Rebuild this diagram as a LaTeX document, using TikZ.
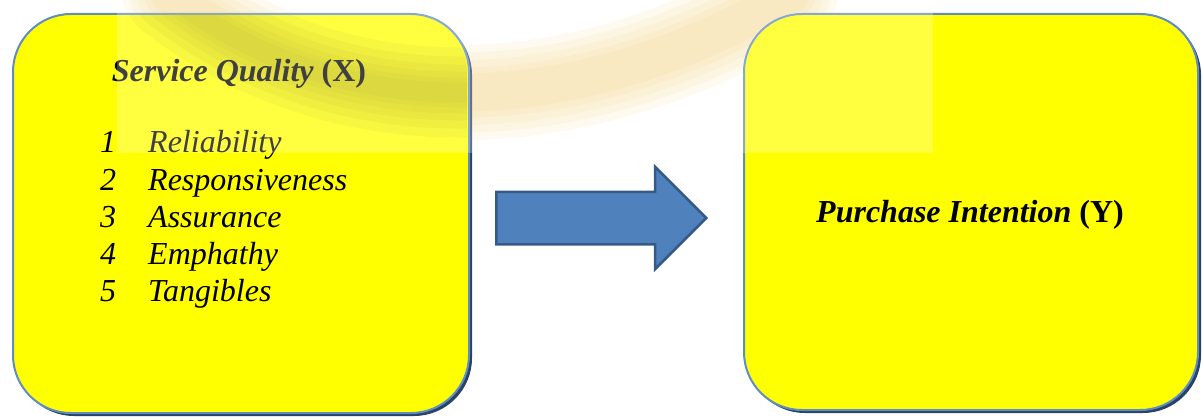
\documentclass[tikz,border=0pt]{standalone}
\usepackage{fontspec}
\setmainfont{Liberation Serif}
\usetikzlibrary{shapes.arrows}
\definecolor{boxyellow}{RGB}{255,255,0}
\definecolor{boxborder}{RGB}{96,140,196}
\definecolor{boxshadow}{RGB}{40,66,104}
\definecolor{arrowfill}{RGB}{79,129,189}
\definecolor{arrowborder}{RGB}{54,90,136}
\definecolor{bandcream}{RGB}{238,186,60}
\definecolor{bandolive}{RGB}{160,150,0}
\begin{document}
\begin{tikzpicture}[x=1pt,y=-1pt,
  boxshape/.style={draw=boxborder, line width=2pt, fill=boxyellow, rounded corners=58pt, inner sep=0pt, anchor=north west},
  shadowfill/.style={fill=boxshadow, rounded corners=58pt},
  bigtext/.style={font=\fontsize{32}{37}\selectfont, inner sep=0pt, text=black},
  blockarrow/.style={shape=single arrow, draw=arrowborder, line width=2.5pt, fill=arrowfill,
    single arrow head extend=25pt, single arrow tip angle=90, inner xsep=0pt, inner ysep=25pt,
    text height=0pt, text depth=0pt, text width=0pt, minimum height=210pt, anchor=tail},
  bandstroke/.style={line cap=round, draw=#1}
]
\useasboundingbox (0,0) rectangle (1202,417);
% watermark band (outside boxes)
\begin{scope}
  \clip (117,0) rectangle (933,153);
  \foreach \w in {95,80,65,50,38}
    \draw[bandstroke=bandcream, line width=\w pt, opacity=0.1]
      (170,-5) .. controls (330,120) and (560,130) .. (790,-5);
\end{scope}
% shadows
\fill[shadowfill] (16,17) rectangle (472,416);
\fill[shadowfill] (747,17) rectangle (1201,413);
% boxes
\node[boxshape, minimum width=456pt, minimum height=399pt] (sq) at (12,13) {};
\node[boxshape, minimum width=454pt, minimum height=396pt] (pi) at (743,13) {};
% watermark band inside left box
\begin{scope}
  \clip[rounded corners=58pt] (13,14) rectangle (467,411);
  \clip (117,0) rectangle (933,153);
  \foreach \w in {90,72,56,42,30,20}
    \draw[bandstroke=bandolive, line width=\w pt, opacity=0.1]
      (170,-5) .. controls (330,120) and (560,130) .. (790,-5);
\end{scope}
% arrow
\node[blockarrow] (arr) at (495,218) {};
% texts
\node[bigtext, anchor=base] (sqtitle) at (239,82) {\textbf{\textit{Service Quality}} \textbf{(X)}};
\node[bigtext, anchor=base west] (n1) at (100,153) {\textit{1}};
\node[bigtext, anchor=base west] (n2) at (100,190) {\textit{2}};
\node[bigtext, anchor=base west] (n3) at (100,227) {\textit{3}};
\node[bigtext, anchor=base west] (n4) at (100,264) {\textit{4}};
\node[bigtext, anchor=base west] (n5) at (100,301) {\textit{5}};
\node[bigtext, anchor=base west] (i1) at (148,153) {\textit{Reliability}};
\node[bigtext, anchor=base west] (i2) at (148,190) {\textit{Responsiveness}};
\node[bigtext, anchor=base west] (i3) at (148,227) {\textit{Assurance}};
\node[bigtext, anchor=base west] (i4) at (148,264) {\textit{Emphathy}};
\node[bigtext, anchor=base west] (i5) at (148,301) {\textit{Tangibles}};
\node[bigtext, anchor=base] (pititle) at (970,222) {\textbf{\textit{Purchase Intention}} \textbf{(Y)}};
% translucent white overlay of the watermark
\fill[white, opacity=0.25] (117,0) rectangle (933,153);
\end{tikzpicture}
\end{document}
